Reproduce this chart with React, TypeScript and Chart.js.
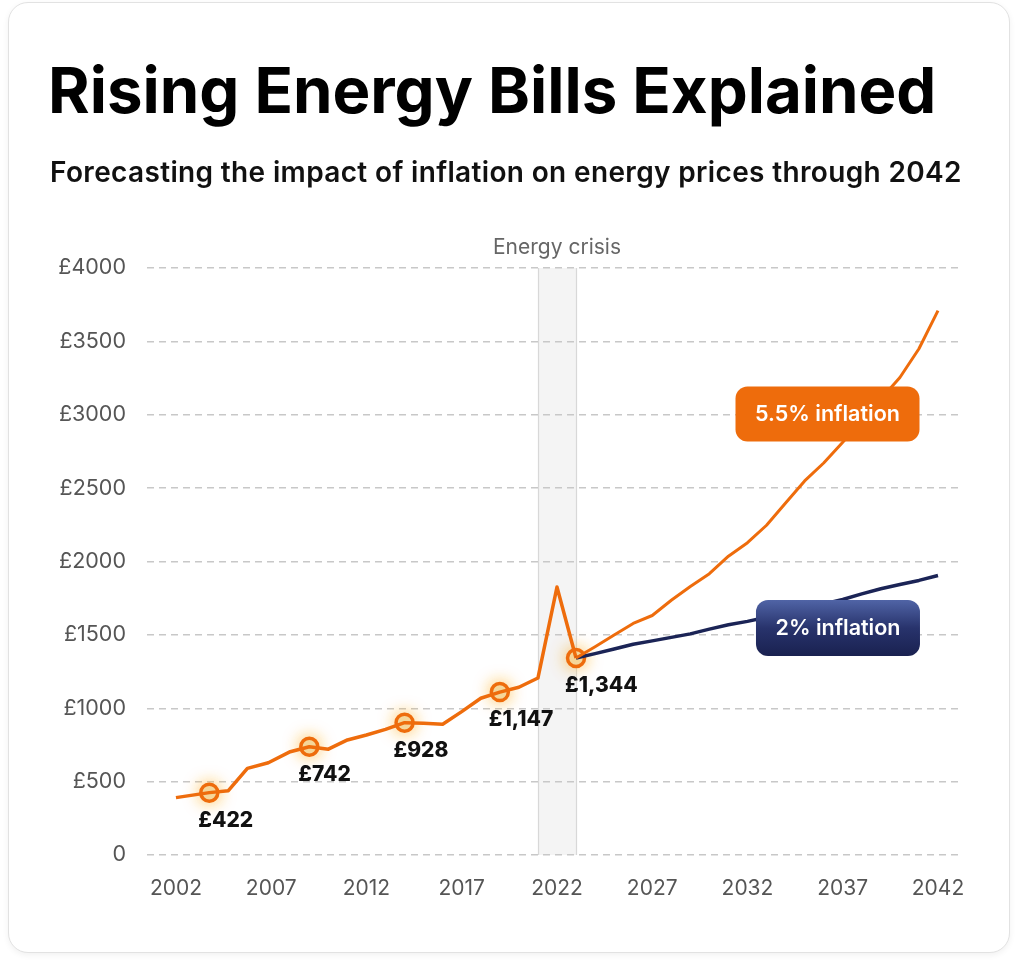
import React, { useEffect, useRef } from "react";
import { Chart, registerables } from "chart.js";

Chart.register(...registerables);

// ---------- data ----------
const historyYears = [2002, 2003.75, 2004.75, 2005.75, 2006.85, 2008, 2009, 2010, 2011, 2012, 2013, 2014, 2015, 2016, 2017, 2018, 2019, 2020, 2021, 2022, 2023];
const historyBills = [391, 425, 438, 590, 629, 704, 738, 721, 784, 818, 856, 902, 898, 891, 977, 1068, 1110, 1143, 1206, 1826, 1342];

const forecastYears = [2023, 2024, 2025, 2026, 2027, 2028, 2029, 2030, 2031, 2032, 2033, 2034, 2035, 2036, 2037, 2038, 2039, 2040, 2041, 2042];
const highInflationBills = [1342, 1419, 1499, 1578, 1632, 1736, 1830, 1917, 2036, 2128, 2247, 2399, 2549, 2671, 2812, 2959, 3107, 3254, 3450, 3710];
const lowInflationBills = [1342, 1372, 1404, 1436, 1459, 1483, 1507, 1539, 1569, 1592, 1620, 1650, 1681, 1711, 1741, 1779, 1814, 1843, 1871, 1905];

const markerYears = [2003.75, 2009, 2014, 2019, 2023];
const markerBills = [425, 738, 902, 1110, 1342];
const markerLabels = ["£422", "£742", "£928", "£1,147", "£1,344"];

const crisisYears = [2021, 2023];
const crisisLabel = "Energy crisis";

const tickYears = [2002, 2007, 2012, 2017, 2022, 2027, 2032, 2037, 2042];
const yTicks = [0, 500, 1000, 1500, 2000, 2500, 3000, 3500, 4000];

const seriesNames = ["5.5% inflation", "2% inflation"];
const seriesNameYears = [2036.2, 2036.75];
const seriesNameBills = [3005, 1547];

// ---------- styling ----------
const ORANGE = "#ee6c0c";
const NAVY = "#1b2456";
const FONT = "Inter, 'Noto Sans', sans-serif";

const toXY = (xs: number[], ys: number[]) => xs.map((x, i) => ({ x, y: ys[i] }));

const overlayPlugin = {
  id: "overlay",
  beforeDraw(chart: any) {
    const { ctx, chartArea, scales } = chart;
    const x1 = scales.x.getPixelForValue(crisisYears[0]);
    const x2 = scales.x.getPixelForValue(crisisYears[1]);
    ctx.save();
    ctx.fillStyle = "#f4f4f4";
    ctx.fillRect(x1, chartArea.top, x2 - x1, chartArea.bottom - chartArea.top);
    ctx.strokeStyle = "#d8d8d8";
    ctx.lineWidth = 1.2;
    ctx.beginPath();
    ctx.moveTo(Math.round(x1) + 0.5, chartArea.top);
    ctx.lineTo(Math.round(x1) + 0.5, chartArea.bottom);
    ctx.moveTo(Math.round(x2) + 0.5, chartArea.top);
    ctx.lineTo(Math.round(x2) + 0.5, chartArea.bottom);
    ctx.stroke();
    ctx.fillStyle = "#666";
    ctx.font = `400 21px ${FONT}`;
    ctx.textAlign = "center";
    ctx.textBaseline = "alphabetic";
    ctx.fillText(crisisLabel, (x1 + x2) / 2, chartArea.top - 14);
    ctx.restore();
  },
  beforeDatasetDraw(chart: any, args: any) {
    if (args.index === 3) {
      chart.ctx.save();
      chart.ctx.shadowColor = "rgba(255, 176, 40, 0.7)";
      chart.ctx.shadowBlur = 16;
    }
  },
  afterDatasetDraw(chart: any, args: any) {
    if (args.index === 3) chart.ctx.restore();
  },
  afterDatasetsDraw(chart: any) {
    const { ctx, scales } = chart;
    ctx.save();
    // marker value labels
    ctx.fillStyle = "#111";
    ctx.font = `800 21px ${FONT}`;
    ctx.textAlign = "left";
    ctx.textBaseline = "middle";
    markerLabels.forEach((t, i) => {
      const px = scales.x.getPixelForValue(markerYears[i]);
      const py = scales.y.getPixelForValue(markerBills[i]);
      ctx.fillText(t, px - 11, py + 28);
    });
    // series name boxes
    const boxW = [184, 164];
    const boxH = [55, 56];
    seriesNames.forEach((t, i) => {
      const cx = scales.x.getPixelForValue(seriesNameYears[i]);
      const cy = scales.y.getPixelForValue(seriesNameBills[i]);
      const left = cx - boxW[i] / 2;
      const top = cy - boxH[i] / 2;
      if (i === 0) {
        ctx.fillStyle = ORANGE;
      } else {
        const g = ctx.createLinearGradient(0, top, 0, top + boxH[i]);
        g.addColorStop(0, "#5064a6");
        g.addColorStop(0.5, "#28336c");
        g.addColorStop(1, "#1a2150");
        ctx.fillStyle = g;
      }
      ctx.beginPath();
      ctx.roundRect(left, top, boxW[i], boxH[i], 12);
      ctx.fill();
      ctx.fillStyle = "#ffffff";
      ctx.font = `600 21.5px ${FONT}`;
      ctx.textAlign = "center";
      ctx.textBaseline = "middle";
      ctx.fillText(t, cx, cy + 1);
    });
    ctx.restore();
  },
};

export default function App() {
  const canvasRef = useRef<HTMLCanvasElement | null>(null);

  useEffect(() => {
    const canvas = canvasRef.current;
    if (!canvas) return;
    const chart = new Chart(canvas, {
      type: "line",
      data: {
        datasets: [
          {
            label: "5.5% inflation",
            data: toXY(forecastYears, highInflationBills),
            borderColor: ORANGE,
            borderWidth: 3,
            pointRadius: 0,
            tension: 0,
            borderJoinStyle: "round",
          },
          {
            label: "2% inflation",
            data: toXY(forecastYears, lowInflationBills),
            borderColor: NAVY,
            borderWidth: 3.5,
            pointRadius: 0,
            tension: 0,
            borderJoinStyle: "round",
          },
          {
            label: "Historical",
            data: toXY(historyYears, historyBills),
            borderColor: ORANGE,
            borderWidth: 3.5,
            pointRadius: 0,
            tension: 0,
            borderJoinStyle: "round",
          },
          {
            label: "Markers",
            data: toXY(markerYears, markerBills),
            showLine: false,
            pointRadius: 8.5,
            pointBorderWidth: 3.5,
            pointBackgroundColor: "#f3dfb2",
            pointBorderColor: ORANGE,
          },
        ],
      },
      options: {
        animation: false,
        responsive: false,
        maintainAspectRatio: false,
        layout: { padding: { left: 0, top: 268, right: 62, bottom: 47 } },
        plugins: {
          legend: { display: false },
          tooltip: { enabled: false },
        },
        scales: {
          x: {
            type: "linear",
            min: 2000.48,
            max: 2043.26,
            afterBuildTicks: (s: any) => {
              s.ticks = tickYears.map((v) => ({ value: v }));
            },
            afterFit: (s: any) => {
              s.height = 70;
            },
            grid: { display: false },
            border: { display: false },
            ticks: {
              color: "#555",
              font: { family: FONT, size: 21 },
              padding: 13,
              autoSkip: false,
              maxRotation: 0,
              callback: (v: any) => String(v),
            },
          },
          y: {
            min: 0,
            max: 4000,
            afterBuildTicks: (s: any) => {
              s.ticks = yTicks.map((v) => ({ value: v }));
            },
            afterFit: (s: any) => {
              s.width = 147;
            },
            grid: { color: "#c8c8c8", lineWidth: 1.5, drawTicks: false },
            border: { display: false, dash: [7, 5] },
            ticks: {
              color: "#555",
              font: { family: FONT, size: 21.5 },
              padding: 21,
              callback: (v: any) => (v === 0 ? "0" : "£" + v),
            },
          },
        },
      },
      plugins: [overlayPlugin],
    } as any);
    return () => chart.destroy();
  }, []);

  return (
    <div style={{ position: "absolute", left: 0, top: 0, width: 1024, height: 972, background: "#fff", fontFamily: FONT }}>
      <div
        style={{
          position: "absolute",
          left: 8,
          top: 2,
          width: 1002,
          height: 951,
          boxSizing: "border-box",
          border: "1px solid #e2e2e2",
          borderRadius: 20,
          boxShadow: "0 2px 6px rgba(0,0,0,0.06)",
          background: "#fff",
        }}
      />
      <canvas
        ref={canvasRef}
        width={1024}
        height={972}
        style={{ position: "absolute", left: 0, top: 0, width: 1024, height: 972 }}
      />
      <div
        style={{
          position: "absolute",
          left: 48,
          top: 58,
          fontSize: 63.5,
          lineHeight: 1,
          fontWeight: 700,
          color: "#000",
          whiteSpace: "nowrap",
          letterSpacing: 0,
        }}
      >
        Rising Energy Bills Explained
      </div>
      <div
        style={{
          position: "absolute",
          left: 50,
          top: 158,
          fontSize: 28,
          lineHeight: 1,
          fontWeight: 600,
          color: "#111",
          whiteSpace: "nowrap",
          letterSpacing: 0.35,
        }}
      >
        Forecasting the impact of inflation on energy prices through 2042
      </div>
    </div>
  );
}
